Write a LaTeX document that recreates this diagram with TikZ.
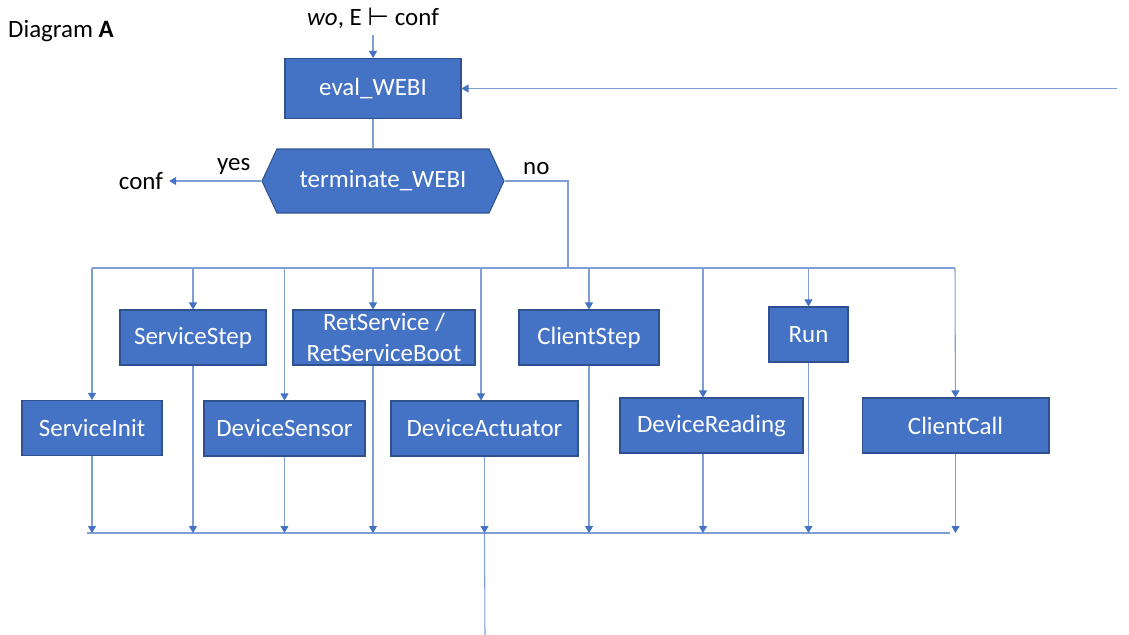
\documentclass[tikz,border=0pt]{standalone}
\usepackage{fontspec}
\setmainfont{Carlito}
\newfontfamily\symbfont{DejaVu Sans}
\usepackage{tikz}
\usetikzlibrary{arrows.meta,shapes.symbols}
\definecolor{boxblue}{HTML}{4472C4}
\definecolor{boxedge}{HTML}{2F528F}
\definecolor{wireblue}{HTML}{7F9ED8}
\tikzset{my box/.style = {draw=boxedge, fill=boxblue, text=white, line width=0.6pt,
  inner sep=1pt, minimum height=1.1cm, align=center},
  my line/.style = {draw=wireblue, line width=0.6pt},
  my arrow/.style = {my line, -{Triangle[width=1.6mm,length=1.4mm,color=boxblue]}}
}

\begin{document}
\begin{tikzpicture}[x=0.02cm,y=-0.02cm,every node/.style={font=\fontsize{14.2}{17.6}\selectfont}]
  \useasboundingbox (0,0) rectangle (1129,635);
  \node[anchor=west] (title) at (2,31) {Diagram \textbf{A}};
  \node (start) at (373,18) {\textit{wo}, E {\symbfont ⊢} conf};
  \node[my box, minimum width=3.52cm, minimum height=1.2cm] (eval) at (373,88.5) {eval\_WEBI};
  \node[my box, shape=signal, signal to=west and east, signal pointer angle=130,
    minimum width=4.84cm, minimum height=1.28cm] (term) at (383,181) {terminate\_WEBI};
  \node (conf) at (141,181) {conf};
  % upper row
  \node[my box, minimum width=2.92cm] (sstep) at (193,337.5) {ServiceStep};
  \node[my box, minimum width=3.64cm] (ret) at (384,337.5) {RetService /\\RetServiceBoot};
  \node[my box, minimum width=2.8cm] (cstep) at (589,337.5) {ClientStep};
  \node[my box, minimum width=1.58cm] (run) at (808.5,334.5) {Run};
  % lower row
  \node[my box, minimum width=2.8cm] (init) at (92,428) {ServiceInit};
  \node[my box, minimum width=3.22cm] (sens) at (284.5,428.5) {DeviceSensor};
  \node[my box, minimum width=3.74cm] (act) at (484.5,428.5) {DeviceActuator};
  \node[my box, minimum width=3.66cm] (read) at (711.5,425.5) {DeviceReading};
  \node[my box, minimum width=3.74cm] (ccall) at (955.5,425.5) {ClientCall};
  % bus points
  \coordinate (loop) at (1117,88.5);
  \coordinate (split) at (568,181);
  \coordinate (busL) at (92,268);
  \coordinate (busR) at (955,268);
  \coordinate (retx) at (373,268);
  \coordinate (actx) at (481,268);
  \coordinate (readx) at (703,268);
  \coordinate (joinL) at (87,533);
  \coordinate (joinR) at (950,533);
  \coordinate (out) at (485,635);
  \draw[my arrow] (start) -- (eval);
  \draw[my arrow] (loop) -- (eval);
  \draw[my line] (eval) -- (eval |- term.north);
  \draw[my arrow] (term.west) -- node[above,pos=0.3,text=black] {yes} (conf);
  \draw[my line] (term.east) -- node[above,text=black] {no} (split) -- (split |- busL);
  \draw[my line] (busL) -- (busR);
  \draw[my arrow] (busL) -- (init);
  \draw[my arrow] (sstep |- busL) -- (sstep);
  \draw[my arrow] (sens |- busL) -- (sens);
  \draw[my arrow] (retx) -- (retx |- ret.north);
  \draw[my arrow] (actx) -- (actx |- act.north);
  \draw[my arrow] (cstep |- busL) -- (cstep);
  \draw[my arrow] (readx) -- (readx |- read.north);
  \draw[my arrow] (run |- busL) -- (run);
  \draw[my arrow] (busR) -- (ccall);
  \draw[my line] (joinL) -- (joinR);
  \draw[my arrow] (init) -- (init |- joinL);
  \draw[my arrow] (sstep) -- (sstep |- joinL);
  \draw[my arrow] (sens) -- (sens |- joinL);
  \draw[my arrow] (retx |- ret.south) -- (retx |- joinL);
  \draw[my arrow] (act) -- (act |- joinL);
  \draw[my line] (act |- joinL) -- (out);
  \draw[my arrow] (cstep) -- (cstep |- joinL);
  \draw[my arrow] (readx |- read.south) -- (readx |- joinL);
  \draw[my arrow] (run) -- (run |- joinL);
  \draw[my arrow] (ccall) -- (ccall |- joinL);
\end{tikzpicture}
\end{document}
